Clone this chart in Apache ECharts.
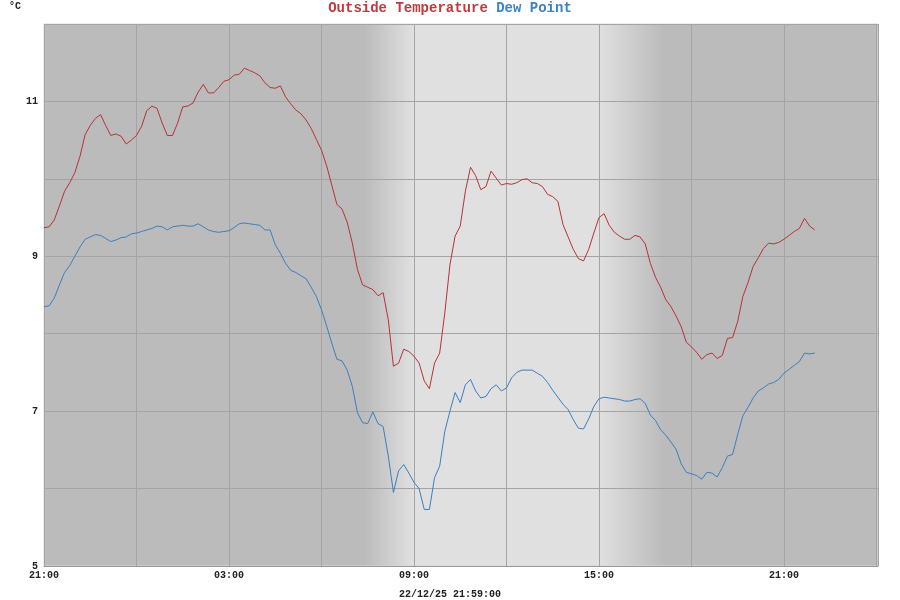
<!DOCTYPE html>
<html>
<head>
<meta charset="utf-8">
<script src="https://cdn.jsdelivr.net/npm/echarts@6/dist/echarts.min.js"></script>
<style>
  html, body { margin: 0; padding: 0; background: #ffffff; }
  #chart { width: 900px; height: 600px; }
</style>
</head>
<body>
<div id="chart"></div>
<script>
// 10-minute readings starting 21:00
const startHour = 21;
const stepMinutes = 10;

const outsideTemp = [
  9.37, 9.38, 9.47, 9.65, 9.84, 9.95, 10.08, 10.29, 10.57, 10.69, 10.78, 10.83, 10.69, 10.56, 10.58, 10.55, 10.45, 10.50, 10.56, 10.68, 10.88, 10.94, 10.91, 10.72, 10.56, 10.56, 10.72,
  10.93, 10.94, 10.98, 11.12, 11.22, 11.11, 11.11, 11.18, 11.26, 11.28, 11.34, 11.35, 11.43, 11.40, 11.37, 11.33, 11.24, 11.18, 11.17, 11.20, 11.06, 10.97, 10.89, 10.84, 10.76, 10.65,
  10.51, 10.37, 10.17, 9.92, 9.67, 9.61, 9.44, 9.17, 8.83, 8.63, 8.60, 8.57, 8.49, 8.53, 8.18, 7.58, 7.62, 7.80, 7.77, 7.71, 7.62, 7.39, 7.29, 7.62, 7.75, 8.27, 8.89,
  9.26, 9.39, 9.84, 10.15, 10.04, 9.86, 9.90, 10.10, 10.01, 9.92, 9.94, 9.93, 9.95, 9.99, 10.00, 9.95, 9.94, 9.90, 9.80, 9.77, 9.71, 9.41, 9.25, 9.09, 8.97, 8.94,
  9.09, 9.30, 9.50, 9.55, 9.40, 9.31, 9.26, 9.22, 9.22, 9.27, 9.25, 9.16, 8.91, 8.73, 8.60, 8.44, 8.35, 8.23, 8.09, 7.89, 7.83, 7.76, 7.67, 7.73, 7.75, 7.68,
  7.72, 7.94, 7.95, 8.16, 8.48, 8.66, 8.87, 8.98, 9.10, 9.17, 9.16, 9.18, 9.22, 9.27, 9.32, 9.36, 9.49, 9.39, 9.34
];

const dewPoint = [
  8.35, 8.36, 8.46, 8.63, 8.79, 8.88, 9.00, 9.12, 9.22, 9.25, 9.28, 9.27, 9.23, 9.19, 9.21, 9.24, 9.25, 9.29, 9.30, 9.32, 9.34, 9.36, 9.39, 9.38, 9.34, 9.38, 9.39,
  9.40, 9.39, 9.39, 9.42, 9.38, 9.34, 9.32, 9.31, 9.32, 9.33, 9.37, 9.42, 9.43, 9.42, 9.41, 9.40, 9.34, 9.34, 9.15, 9.04, 8.91, 8.82, 8.79, 8.75, 8.71, 8.60,
  8.48, 8.31, 8.10, 7.88, 7.67, 7.65, 7.53, 7.32, 6.98, 6.85, 6.84, 6.99, 6.84, 6.80, 6.42, 5.95, 6.23, 6.31, 6.20, 6.08, 6.00, 5.73, 5.73, 6.14, 6.29, 6.74, 7.00,
  7.24, 7.11, 7.34, 7.41, 7.26, 7.17, 7.19, 7.29, 7.34, 7.26, 7.30, 7.43, 7.50, 7.53, 7.53, 7.53, 7.49, 7.45, 7.37, 7.27, 7.18, 7.09, 7.02, 6.89, 6.78, 6.77,
  6.90, 7.06, 7.16, 7.18, 7.17, 7.16, 7.15, 7.13, 7.13, 7.15, 7.16, 7.10, 6.95, 6.88, 6.76, 6.69, 6.60, 6.51, 6.32, 6.21, 6.19, 6.17, 6.12, 6.21, 6.20, 6.15,
  6.27, 6.42, 6.44, 6.70, 6.94, 7.05, 7.17, 7.26, 7.30, 7.35, 7.37, 7.41, 7.49, 7.54, 7.59, 7.64, 7.75, 7.74, 7.75
];

const yTickLabels = [5, 7, 9, 11];
const xTickLabelHours = [0, 6, 12, 18, 24];
const stampText = '22/12/25 21:59:00';

// hours since 21:00
const xMax = 27.05;
const dawnStart = 10.4, dawnEnd = 12.0, duskStart = 18.0, duskEnd = 20.1;

const toPairs = arr => arr.map((v, i) => [i * stepMinutes / 60, v]);

const night = '#bbbbbb', day = '#e0e0e0';
const bg = new echarts.graphic.LinearGradient(0, 0, 1, 0, [
  { offset: 0, color: night },
  { offset: dawnStart / xMax, color: night },
  { offset: dawnEnd / xMax, color: day },
  { offset: duskStart / xMax, color: day },
  { offset: duskEnd / xMax, color: night },
  { offset: 1, color: night }
]);

const chart = echarts.init(document.getElementById('chart'));
const mono = '"Liberation Mono", "DejaVu Sans Mono", monospace';

chart.setOption({
  animation: false,
  backgroundColor: '#ffffff',
  title: {
    text: '{a|Outside Temperature }{b|Dew Point}',
    left: 'center',
    top: -4,
    textStyle: {
      rich: {
        a: { color: '#c0393b', fontFamily: mono, fontSize: 14, fontWeight: 'bold' },
        b: { color: '#3a83c4', fontFamily: mono, fontSize: 14, fontWeight: 'bold' }
      }
    }
  },
  graphic: [
    { type: 'text', left: 9, top: 1, style: { text: '°C', font: 'bold 10px "Liberation Mono"', fill: '#222' } },
    { type: 'text', left: 'center', top: 589, style: { text: stampText, font: 'bold 10px "Liberation Mono"', fill: '#222' } }
  ],
  grid: {
    left: 44, right: 22, top: 24, bottom: 34,
    show: true,
    backgroundColor: bg,
    borderColor: '#d8d8d8',
    borderWidth: 1
  },
  xAxis: {
    type: 'value',
    min: 0,
    max: xMax,
    interval: 3,
    axisLine: { show: true, lineStyle: { color: '#999' } },
    axisTick: { show: false },
    splitLine: { show: true, lineStyle: { color: '#a4a4a4', width: 1 } },
    axisLabel: {
      color: '#222',
      fontFamily: mono,
      fontWeight: 'bold',
      fontSize: 10,
      margin: 4,
      showMaxLabel: false,
      formatter: v => {
        if (!xTickLabelHours.includes(v)) return '';
        const h = (startHour + v) % 24;
        return String(h).padStart(2, '0') + ':00';
      }
    }
  },
  yAxis: {
    type: 'value',
    min: 5,
    max: 12,
    interval: 1,
    axisLine: { show: false },
    axisTick: { show: false },
    splitLine: { show: true, lineStyle: { color: '#a4a4a4', width: 1 } },
    axisLabel: {
      color: '#222',
      fontFamily: mono,
      fontWeight: 'bold',
      fontSize: 10,
      margin: 6,
      formatter: v => yTickLabels.includes(v) ? String(v) : ''
    }
  },
  series: [
    {
      name: 'Outside Temperature',
      type: 'line',
      data: toPairs(outsideTemp),
      showSymbol: false,
      lineStyle: { color: '#b83234', width: 1 },
      itemStyle: { color: '#b83234' }
    },
    {
      name: 'Dew Point',
      type: 'line',
      data: toPairs(dewPoint),
      showSymbol: false,
      lineStyle: { color: '#3b7fbf', width: 1 },
      itemStyle: { color: '#3b7fbf' }
    }
  ]
});
</script>
</body>
</html>
